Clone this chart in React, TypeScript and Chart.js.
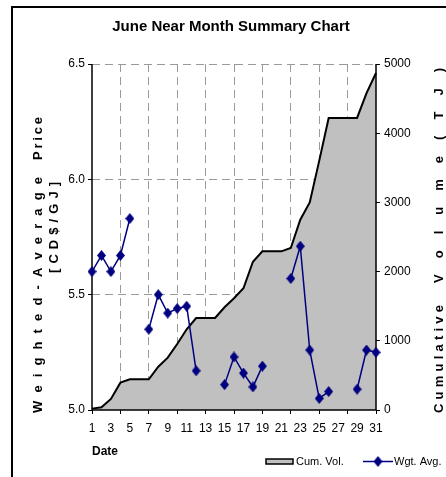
import { useEffect, useRef } from 'react';
import { Chart, registerables } from 'chart.js';

Chart.register(...registerables);

const dates = ['1', '2', '3', '4', '5', '6', '7', '8', '9', '10', '11', '12', '13', '14', '15', '16', '17', '18', '19', '20', '21', '22', '23', '24', '25', '26', '27', '28', '29', '30', '31'];

const cumVolume = [20, 40, 160, 395, 444, 444, 444, 626, 756, 954, 1166, 1329, 1329, 1329, 1484, 1614, 1759, 2143, 2293, 2293, 2293, 2341, 2750, 3000, 3600, 4220, 4220, 4220, 4220, 4580, 4870];

const wgtAvgPrice: (number | null)[] = [5.60, 5.67, 5.60, 5.67, 5.83, null, 5.35, 5.50, 5.42, 5.44, 5.45, 5.17, null, null, 5.11, 5.23, 5.16, 5.10, 5.19, null, null, 5.57, 5.71, 5.26, 5.05, 5.08, null, null, 5.09, 5.26, 5.25];

const titleText = 'June Near Month Summary Chart';
const leftTitleWords = ['Weighted-Average', 'Price'];
const leftTitleUnit = '[CD$/GJ]';
const rightTitleWords = ['Cumulative', 'Volume(TJ)'];
const xTitle = 'Date';
const legendLabels = ['Cum. Vol.', 'Wgt. Avg.'];

const NAVY = '#000080';
const FILL_GRAY = '#C0C0C0';
const GRID_GRAY = '#9a9a9a';
const SANS = '"Liberation Sans", Arial, sans-serif';
const NARROW = '"Liberation Sans Narrow", "Arial Narrow", "Liberation Sans", sans-serif';

function makeDiamond(w: number, h: number, color: string) {
  const c = document.createElement('canvas');
  c.width = w;
  c.height = h;
  const g = c.getContext('2d')!;
  g.fillStyle = color;
  g.beginPath();
  g.moveTo(w / 2, 0);
  g.lineTo(w, h / 2);
  g.lineTo(w / 2, h);
  g.lineTo(0, h / 2);
  g.closePath();
  g.fill();
  return c;
}

function drawSpacedUp(ctx: CanvasRenderingContext2D, text: string, cx: number, yBottom: number, length: number, font: string) {
  ctx.save();
  ctx.font = font;
  ctx.fillStyle = '#000';
  ctx.translate(cx, yBottom);
  ctx.rotate(-Math.PI / 2);
  const chars = [...text];
  const widths = chars.map((c) => ctx.measureText(c).width);
  const total = widths.reduce((a, b) => a + b, 0);
  const gap = chars.length > 1 ? (length - total) / (chars.length - 1) : 0;
  ctx.textBaseline = 'middle';
  ctx.textAlign = 'left';
  let x = 0;
  chars.forEach((c, i) => {
    ctx.fillText(c, x, 0);
    x += widths[i] + gap;
  });
  ctx.restore();
}

export default function App() {
  const ref = useRef<HTMLCanvasElement | null>(null);

  useEffect(() => {
    if (!ref.current) return;
    const diamond = makeDiamond(9, 11, NAVY);

    const decorPlugin = {
      id: 'decor',
      beforeDraw(chart: any) {
        const ctx = chart.ctx as CanvasRenderingContext2D;
        ctx.save();
        ctx.fillStyle = '#fff';
        ctx.fillRect(0, 0, chart.width, chart.height);
        ctx.strokeStyle = '#000';
        ctx.lineWidth = 2;
        ctx.beginPath();
        ctx.moveTo(12, chart.height + 2);
        ctx.lineTo(12, 7);
        ctx.lineTo(chart.width + 2, 7);
        ctx.stroke();
        ctx.restore();
      },
      afterDatasetDraw(chart: any, args: any) {
        if (args.index !== 0) return;
        const { left, right, top, bottom } = chart.chartArea;
        const ctx = chart.ctx as CanvasRenderingContext2D;
        ctx.save();
        ctx.strokeStyle = '#000';
        ctx.lineWidth = 1.5;
        ctx.beginPath();
        ctx.moveTo(left, top);
        ctx.lineTo(left, bottom);
        ctx.lineTo(right, bottom);
        ctx.moveTo(right, top);
        ctx.lineTo(right, bottom);
        ctx.stroke();
        ctx.restore();
      },
      afterDraw(chart: any) {
        const ctx = chart.ctx as CanvasRenderingContext2D;
        ctx.save();
        ctx.fillStyle = '#000';
        ctx.font = 'bold 15px ' + SANS;
        ctx.textAlign = 'center';
        ctx.textBaseline = 'alphabetic';
        ctx.fillText(titleText, 231, 31);
        ctx.font = 'bold 12px ' + SANS;
        ctx.textAlign = 'left';
        ctx.textBaseline = 'middle';
        ctx.fillText(xTitle, 92, 452);
        ctx.restore();

        const bold = 'bold 13px ' + SANS;
        drawSpacedUp(ctx, leftTitleWords[0], 38, 413, 236, bold);
        drawSpacedUp(ctx, leftTitleWords[1], 38, 160, 43, bold);
        drawSpacedUp(ctx, leftTitleUnit, 54, 273, 91, bold);
        drawSpacedUp(ctx, rightTitleWords[0], 439, 413, 108, bold);
        drawSpacedUp(ctx, rightTitleWords[1], 439, 283, 215, bold);

        const ds = chart.data.datasets;
        ctx.save();
        ctx.fillStyle = ds[0].backgroundColor;
        ctx.fillRect(266, 459, 27, 5);
        ctx.strokeStyle = ds[0].borderColor;
        ctx.lineWidth = 1.5;
        ctx.strokeRect(266, 459, 27, 5);
        ctx.fillStyle = '#000';
        ctx.font = '11px ' + SANS;
        ctx.textAlign = 'left';
        ctx.textBaseline = 'middle';
        ctx.fillText(legendLabels[0], 296, 461.5);
        ctx.strokeStyle = ds[1].borderColor;
        ctx.lineWidth = 1.5;
        ctx.beginPath();
        ctx.moveTo(363, 461.5);
        ctx.lineTo(393, 461.5);
        ctx.stroke();
        ctx.drawImage(diamond, 378 - diamond.width / 2, 461.5 - diamond.height / 2);
        ctx.fillText(legendLabels[1], 394, 461.5);
        ctx.restore();
      },
    };

    const chart = new Chart(ref.current, {
      type: 'line',
      data: {
        labels: dates,
        datasets: [
          {
            label: legendLabels[0],
            data: cumVolume,
            yAxisID: 'y1',
            borderColor: '#000',
            backgroundColor: FILL_GRAY,
            borderWidth: 2,
            fill: 'origin',
            pointRadius: 0,
            tension: 0,
            order: 2,
          },
          {
            label: legendLabels[1],
            data: wgtAvgPrice,
            yAxisID: 'y',
            borderColor: NAVY,
            backgroundColor: NAVY,
            borderWidth: 1.5,
            pointStyle: diamond as any,
            pointRadius: 5,
            spanGaps: false,
            tension: 0,
            clip: false as any,
            order: 1,
          },
        ],
      },
      options: {
        animation: false,
        responsive: false,
        layout: { padding: { top: 64, left: 0, right: 0, bottom: 0 } },
        plugins: {
          legend: { display: false },
          title: { display: false },
          tooltip: { enabled: false },
        },
        scales: {
          x: {
            offset: false,
            afterFit(scale: any) {
              scale.height = 67;
            },
            border: { display: false, dash: [8, 5] },
            grid: {
              color: (c: any) => (c.index % 3 === 0 && c.index !== 0 && c.index !== 30 ? GRID_GRAY : 'rgba(0,0,0,0)'),
              tickColor: (c: any) => (c.index % 3 === 0 ? '#000' : 'rgba(0,0,0,0)'),
              tickLength: 4,
              tickBorderDash: [],
              lineWidth: 1,
            },
            ticks: {
              autoSkip: false,
              maxRotation: 0,
              padding: 7,
              color: '#000',
              font: { family: NARROW, size: 12 },
              callback: (_v: any, i: number) => (i % 2 === 0 ? dates[i] : ''),
            },
          },
          y: {
            position: 'left',
            min: 5.0,
            max: 6.5,
            afterFit(scale: any) {
              scale.width = 92;
            },
            border: { display: false, dash: [8, 5] },
            grid: {
              color: (c: any) => (c.tick && c.tick.value > 5.0 ? GRID_GRAY : 'rgba(0,0,0,0)'),
              tickColor: '#000',
              tickLength: 4,
              tickBorderDash: [],
              lineWidth: 1,
            },
            ticks: {
              stepSize: 0.5,
              padding: 3,
              color: '#000',
              font: { family: SANS, size: 12 },
              callback: (v: any) => Number(v).toFixed(1),
            },
          },
          y1: {
            position: 'right',
            min: 0,
            max: 5000,
            afterFit(scale: any) {
              scale.width = 70;
            },
            border: { display: false },
            grid: {
              drawOnChartArea: false,
              tickColor: '#000',
              tickLength: 4,
              lineWidth: 1,
            },
            ticks: {
              stepSize: 1000,
              padding: 4,
              color: '#000',
              font: { family: SANS, size: 12 },
              callback: (v: any) => String(Math.round(Number(v))),
            },
          },
        },
      },
      plugins: [decorPlugin],
    } as any);

    return () => chart.destroy();
  }, []);

  return (
    <div style={{ position: 'absolute', left: 0, top: 0, width: 446, height: 477 }}>
      <canvas ref={ref} width={446} height={477} style={{ display: 'block' }} />
    </div>
  );
}
